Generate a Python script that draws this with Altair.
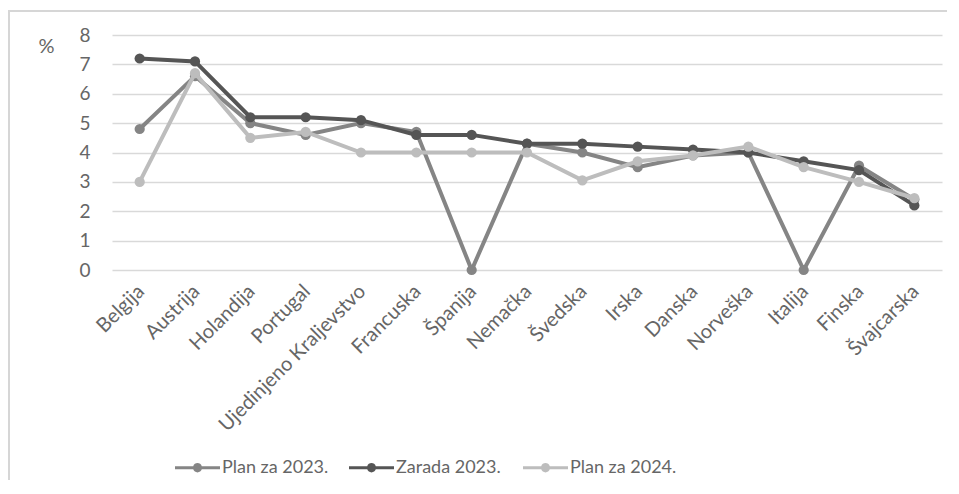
import altair as alt
import pandas as pd

countries = ["Belgija", "Austrija", "Holandija", "Portugal", "Ujedinjeno Kraljevstvo",
             "Francuska", "Španija", "Nemačka", "Švedska", "Irska", "Danska",
             "Norveška", "Italija", "Finska", "Švajcarska"]
series_names = ["Plan za 2023.", "Zarada 2023.", "Plan za 2024."]
plan23 = [4.8, 6.6, 5.0, 4.6, 5.0, 4.7, 0.0, 4.3, 4.0, 3.5, 3.9, 4.0, 0.0, 3.55, 2.4]
zarada23 = [7.2, 7.1, 5.2, 5.2, 5.1, 4.6, 4.6, 4.3, 4.3, 4.2, 4.1, 4.0, 3.7, 3.4, 2.2]
plan24 = [3.0, 6.7, 4.5, 4.7, 4.0, 4.0, 4.0, 4.0, 3.05, 3.7, 3.9, 4.2, 3.5, 3.0, 2.45]
colors = ["#858585", "#555555", "#bdbdbd"]
y_ticks = [0, 1, 2, 3, 4, 5, 6, 7, 8]

rows = []
for name, vals in zip(series_names, [plan23, zarada23, plan24]):
    for c, v in zip(countries, vals):
        rows.append({"country": c, "series": name, "value": v})
df = pd.DataFrame(rows)

FONT = "Lato"
TEXT = "#666666"
GRID = "#d9d9d9"

legend_path = ("M-1,-0.07L-0.19,-0.07A0.2,0.2,0,0,1,0.19,-0.07L1,-0.07"
               "L1,0.07L0.19,0.07A0.2,0.2,0,0,1,-0.19,0.07L-1,0.07Z")

x_enc = alt.X("country:N", sort=countries, title=None,
              scale=alt.Scale(padding=0.5),
              axis=alt.Axis(labelAngle=315, labelAlign="right", labelBaseline="middle",
                            labelPadding=18, labelOffset=1, ticks=False, domain=False,
                            grid=False, labelFont=FONT, labelFontSize=20, labelColor=TEXT,
                            labelOverlap=False, labelLimit=400))
y_enc = alt.Y("value:Q", title="%",
              scale=alt.Scale(domain=[0, 8], nice=False),
              axis=alt.Axis(values=y_ticks, ticks=False, domain=False, grid=True,
                            gridColor=GRID, gridWidth=1.5,
                            labelFont=FONT, labelFontSize=19, labelColor=TEXT,
                            labelPadding=22,
                            titleAngle=0, titleX=-66, titleY=11, titleAlign="center",
                            titleBaseline="middle", titleFont=FONT, titleFontSize=20,
                            titleFontWeight="normal", titleColor=TEXT))
color_scale = alt.Scale(domain=series_names, range=colors)

leg = alt.Legend(orient="none", legendX=63, legendY=410, direction="horizontal",
                 columns=3, gridAlign="all", columnPadding=20, labelOffset=2,
                 symbolSize=2025, symbolType=legend_path, symbolStrokeWidth=0,
                 symbolOpacity=1,
                 labelFont=FONT, labelFontSize=18, labelColor=TEXT,
                 title=None, padding=0)

layers = []
for i, name in enumerate(series_names):
    base = alt.Chart(df).transform_filter(alt.datum.series == name)
    line = base.mark_line(strokeWidth=4, color=colors[i]).encode(x=x_enc, y=y_enc)
    pts = base.mark_point(filled=True, size=105, opacity=1).encode(
        x=x_enc, y=y_enc,
        color=alt.Color("series:N", scale=color_scale, legend=leg))
    layers += [line, pts]

frame_df = pd.DataFrame({"k": [0]})
frame = alt.Chart(frame_df).mark_rect(filled=False, stroke="#d6d6d6", strokeWidth=2).encode(
    x=alt.value(-103), x2=alt.value(900), y=alt.value(-24), y2=alt.value(480))

chart = alt.layer(frame, *layers).properties(
    width=830, height=235,
    autosize=alt.AutoSizeParams(type="none"),
    padding={"left": 104, "top": 27, "right": 5, "bottom": 210},
    background="white",
).configure_view(stroke=None)

chart.save("out.html", embed_options={"renderer": "svg", "actions": False})
